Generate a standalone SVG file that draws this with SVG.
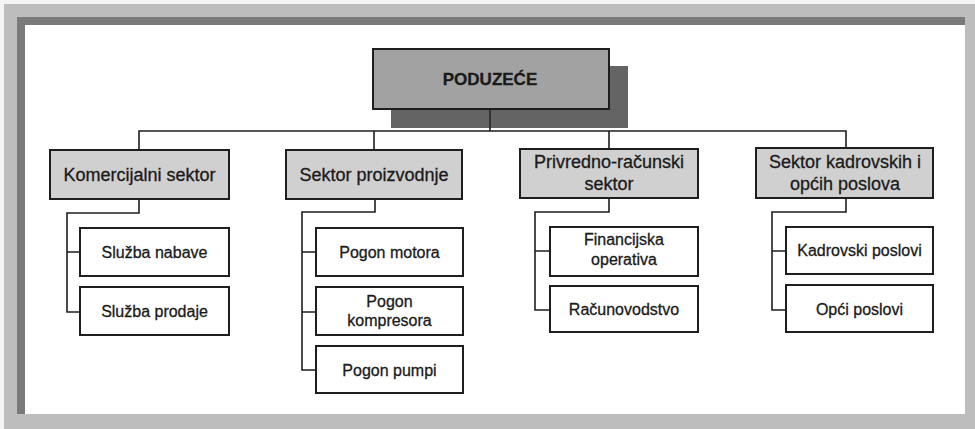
<svg xmlns="http://www.w3.org/2000/svg" width="975" height="429" viewBox="0 0 975 429">
<defs>
<style>
.l2 rect{fill:#d0d0d0;stroke:#1e1e1e;stroke-width:2}
.l3 rect{fill:#ffffff;stroke:#1e1e1e;stroke-width:2}
text{font-family:"Liberation Sans",Arial,sans-serif;fill:#1a1a1a;stroke:#1a1a1a;stroke-width:0.3;text-anchor:middle}
.l2 text{font-size:18px}
.l3 text{font-size:16px}
#connectors path{fill:none;stroke:#1e1e1e;stroke-width:1.6}
</style>
</defs>
<rect x="0" y="0" width="975" height="429" fill="#f4f4f4"/>
<rect x="4" y="4" width="971" height="425" fill="#bdbdbd"/>
<rect x="17" y="17" width="948" height="397" fill="#7a7a7a"/>
<rect x="25" y="25" width="940" height="389" fill="#ffffff"/>

<g id="connectors">
<path d="M490 109 V131 M139 150 V131 H846 V148 M374 131 V150 M609 131 V149"/>
<path d="M139 199 V213 H67 V312 H80 M67 252 H80"/>
<path d="M375 199 V212 H302 V370 H316 M302 252 H316 M302 312 H316"/>
<path d="M609 198 V212 H535 V310 H550 M535 251 H550"/>
<path d="M846 198 V212 H772 V310 H786 M772 251 H786"/>
</g>

<g id="poduzece">
<rect x="391" y="66" width="237" height="62" fill="#646464"/>
<rect x="373" y="49" width="236" height="60" fill="#a2a2a2" stroke="#1e1e1e" stroke-width="2"/>
<line x1="490" y1="109" x2="490" y2="128" stroke="#1e1e1e" stroke-width="1.4"/>
<text x="490" y="85" font-size="17" font-weight="bold">PODUZEĆE</text>
</g>

<g id="komercijalni" class="l2">
<rect x="50" y="150" width="179" height="49"/>
<text x="139.5" y="181">Komercijalni sektor</text>
</g>
<g id="proizvodnja" class="l2">
<rect x="286" y="150" width="176" height="49"/>
<text x="374" y="181">Sektor proizvodnje</text>
</g>
<g id="privredno" class="l2">
<rect x="520" y="149" width="178" height="49"/>
<text x="609" y="168">Privredno-računski</text>
<text x="609" y="190">sektor</text>
</g>
<g id="kadrovski" class="l2">
<rect x="756" y="148" width="177" height="50"/>
<text x="845" y="168">Sektor kadrovskih i</text>
<text x="845" y="190">općih poslova</text>
</g>

<g id="nabava" class="l3">
<rect x="80" y="228" width="149" height="48"/>
<text x="154.5" y="258">Služba nabave</text>
</g>
<g id="prodaja" class="l3">
<rect x="80" y="287" width="149" height="48"/>
<text x="154.5" y="317">Služba prodaje</text>
</g>
<g id="motor" class="l3">
<rect x="316" y="228" width="147" height="48"/>
<text x="389.5" y="258">Pogon motora</text>
</g>
<g id="kompresor" class="l3">
<rect x="316" y="287" width="147" height="48"/>
<text x="389.5" y="307">Pogon</text>
<text x="389.5" y="326">kompresora</text>
</g>
<g id="pumpe" class="l3">
<rect x="316" y="346" width="147" height="47"/>
<text x="389.5" y="376">Pogon pumpi</text>
</g>
<g id="financijska" class="l3">
<rect x="550" y="227" width="148" height="49"/>
<text x="624" y="245">Financijska</text>
<text x="624" y="265">operativa</text>
</g>
<g id="racunovodstvo" class="l3">
<rect x="550" y="286" width="148" height="46"/>
<text x="624" y="315">Računovodstvo</text>
</g>
<g id="kadrovskiposlovi" class="l3">
<rect x="786" y="227" width="147" height="47"/>
<text x="859.5" y="256">Kadrovski poslovi</text>
</g>
<g id="opciposlovi" class="l3">
<rect x="786" y="285" width="147" height="47"/>
<text x="859.5" y="315">Opći poslovi</text>
</g>
</svg>
